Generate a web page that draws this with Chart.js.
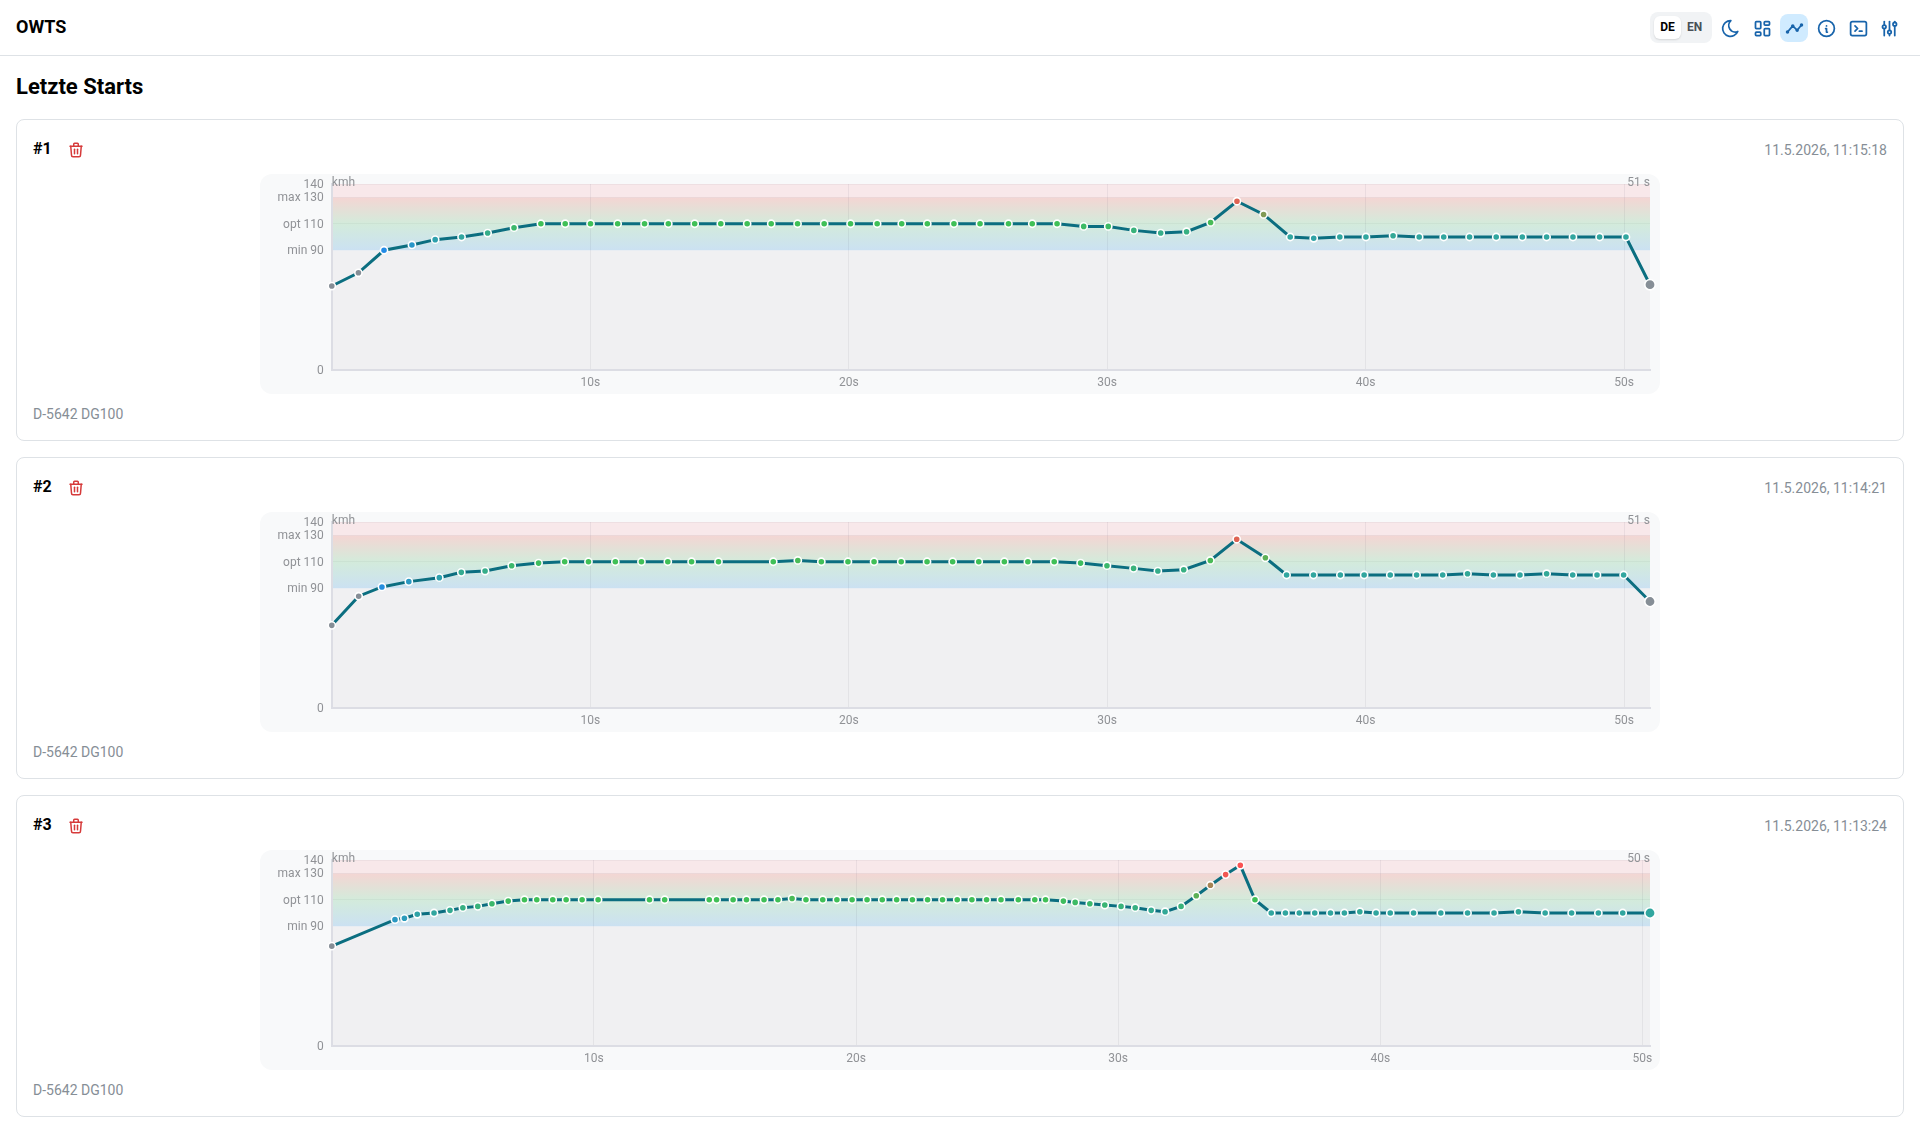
<!DOCTYPE html>
<html lang="de">
<head>
<meta charset="utf-8">
<title>OWTS</title>
<script src="https://cdn.jsdelivr.net/npm/chart.js@4/dist/chart.umd.js"></script>
<style>
  html,body{margin:0;padding:0;background:#fff;font-family:Roboto,sans-serif;color:#000;overflow:hidden}
  body{width:1920px;height:1134px;position:relative}
  header{position:absolute;left:0;top:0;width:1920px;height:55px;border-bottom:1px solid #dee2e6}
  .brand{position:absolute;left:16px;top:17px;font-size:18px;line-height:20px;font-weight:700}
  h1{position:absolute;left:16px;top:73px;margin:0;font-size:22px;line-height:28px;font-weight:700}
  .lang{position:absolute;left:1650px;top:12px;width:62px;height:31px;border-radius:8px;background:#f1f3f5}
  .lang span{position:absolute;top:4px;width:27px;height:23px;line-height:23px;text-align:center;font-size:12px;font-weight:700;color:#495057;border-radius:6px}
  .lang .on{left:4px;background:#fff;color:#000;box-shadow:0 1px 2px rgba(0,0,0,.12)}
  .lang .off{left:31px}
  .ico{position:absolute;top:14px;width:28px;height:28px;border-radius:8px;display:flex;align-items:center;justify-content:center}
  .ico.active{background:#d0ebff}
  svg{fill:none;stroke-linecap:round;stroke-linejoin:round}
  .ico svg{width:21px;height:21px;stroke:#1864ab;stroke-width:2}
  .card{position:absolute;left:16px;width:1886px;height:320px;border:1px solid #dee2e6;border-radius:8px;background:#fff}
  .num{position:absolute;left:16px;top:19px;font-size:16px;line-height:20px;font-weight:700}
  .trash{position:absolute;left:50px;top:21px;width:18px;height:18px;stroke:#d63a3a;stroke-width:2}
  .date{position:absolute;right:16px;top:20px;font-size:14px;line-height:20px;color:#868e96}
  .plane{position:absolute;left:16px;top:284px;font-size:14px;line-height:20px;color:#868e96}
  .panel{position:absolute;left:243px;top:54px;width:1400px;height:220px;background:#f8f9fa;border-radius:12px}
  canvas{display:block}
</style>
</head>
<body>
<header>
  <div class="brand">OWTS</div>
  <div class="lang"><span class="on">DE</span><span class="off">EN</span></div>
  <div class="ico" style="left:1716px"><svg viewBox="0 0 24 24"><path d="M12 3c.132 0 .263 0 .393 0a7.5 7.5 0 0 0 7.92 12.446a9 9 0 1 1 -8.313 -12.454z"/></svg></div>
  <div class="ico" style="left:1748px"><svg viewBox="0 0 24 24"><path d="M5 4h4a1 1 0 0 1 1 1v6a1 1 0 0 1 -1 1h-4a1 1 0 0 1 -1 -1v-6a1 1 0 0 1 1 -1"/><path d="M5 16h4a1 1 0 0 1 1 1v2a1 1 0 0 1 -1 1h-4a1 1 0 0 1 -1 -1v-2a1 1 0 0 1 1 -1"/><path d="M15 12h4a1 1 0 0 1 1 1v6a1 1 0 0 1 -1 1h-4a1 1 0 0 1 -1 -1v-6a1 1 0 0 1 1 -1"/><path d="M15 4h4a1 1 0 0 1 1 1v2a1 1 0 0 1 -1 1h-4a1 1 0 0 1 -1 -1v-2a1 1 0 0 1 1 -1"/></svg></div>
  <div class="ico active" style="left:1780px"><svg viewBox="0 0 24 24"><path d="M4 16l6 -7l5 5l5 -6"/><path d="M15 14m-1 0a1 1 0 1 0 2 0a1 1 0 1 0 -2 0"/><path d="M10 9m-1 0a1 1 0 1 0 2 0a1 1 0 1 0 -2 0"/><path d="M4 16m-1 0a1 1 0 1 0 2 0a1 1 0 1 0 -2 0"/><path d="M20 8m-1 0a1 1 0 1 0 2 0a1 1 0 1 0 -2 0"/></svg></div>
  <div class="ico" style="left:1812px"><svg viewBox="0 0 24 24"><path d="M3 12a9 9 0 1 0 18 0a9 9 0 0 0 -18 0"/><path d="M12 9h.01"/><path d="M11 12h1v4h1"/></svg></div>
  <div class="ico" style="left:1844px"><svg viewBox="0 0 24 24"><path d="M8 9l3 3l-3 3"/><path d="M13 15l3 0"/><path d="M3 4m0 2a2 2 0 0 1 2 -2h14a2 2 0 0 1 2 2v12a2 2 0 0 1 -2 2h-14a2 2 0 0 1 -2 -2z"/></svg></div>
  <div class="ico" style="left:1875px"><svg viewBox="0 0 24 24"><path d="M4 10a2 2 0 1 0 4 0a2 2 0 0 0 -4 0"/><path d="M6 4v4"/><path d="M6 12v8"/><path d="M10 16a2 2 0 1 0 4 0a2 2 0 0 0 -4 0"/><path d="M12 4v10"/><path d="M12 18v2"/><path d="M16 7a2 2 0 1 0 4 0a2 2 0 0 0 -4 0"/><path d="M18 4v1"/><path d="M18 9v11"/></svg></div>
</header>
<h1>Letzte Starts</h1>
<div id="cards"></div>
<script>
const yTickValues = [0, 90, 110, 130, 140];
const yTickLabels = { 0: "0", 90: "min 90", 110: "opt 110", 130: "max 130", 140: "140" };
const xTickValues = [10, 20, 30, 40, 50];
const speedMin = 90, speedOpt = 110, speedMax = 130, speedTop = 140;

const runNames = ["#1", "#2", "#3"];
const runDates = ["11.5.2026, 11:15:18", "11.5.2026, 11:14:21", "11.5.2026, 11:13:24"];
const runPlanes = ["D-5642 DG100", "D-5642 DG100", "D-5642 DG100"];
const runDurations = ["51 s", "51 s", "50 s"];
const runEnds = [51, 51, 50.29];

const times1 = [0,1.03,2.02,3.1,4,5.02,6.03,7.05,8.09,9.03,10.01,11.06,12.1,13.02,14.04,15.05,16.07,17,18.02,19.05,20.07,21.1,22.05,23.04,24.07,25.08,26.18,27.1,28.06,29.09,30.04,31.03,32.07,33.07,34,35.02,36.05,37.08,37.99,39,40.01,41.06,42.07,43.02,44.02,45.05,46.06,47,48.02,49.05,50.07,51];
const speeds1 = [63,73,90,94,98,100,103,107,110,110,110,110,110,110,110,110,110,110,110,110,110,110,110,110,110,110,110,110,110,108,108,105,103,104,111,127,117,100,99,100,100,101,100,100,100,100,100,100,100,100,100,64];

const times2 = [0,1.04,1.94,2.98,4.16,5.01,5.93,6.96,8,9.01,9.93,10.97,11.98,13,13.92,14.96,17.08,18.03,18.94,19.97,20.98,22.03,23.03,24.02,25.03,26.02,26.93,27.95,28.97,29.99,31.02,31.96,32.96,33.99,35.01,36.12,36.94,37.98,39.02,39.94,40.95,41.97,42.98,43.94,44.94,45.97,47,48.01,48.95,49.98,51];
const speeds2 = [62,84,91,95,98,102,103,107,109,110,110,110,110,110,110,110,110,111,110,110,110,110,110,110,110,110,110,110,109,107,105,103,104,111,127,113,100,100,100,100,100,100,100,101,100,100,101,100,100,100,80];

const times3 = [0,2.41,2.77,3.26,3.9,4.51,5,5.57,6.11,6.73,7.35,7.82,8.43,8.94,9.55,10.16,12.12,12.7,14.4,14.68,15.31,15.82,16.49,17.02,17.56,18.09,18.73,19.27,19.85,20.42,21,21.55,22.15,22.73,23.3,23.86,24.42,24.98,25.53,26.19,26.82,27.23,27.91,28.36,28.92,29.49,30.11,30.65,31.26,31.79,32.4,32.98,33.52,34.1,34.66,35.22,35.84,36.38,36.91,37.5,38.1,38.63,39.22,39.84,40.38,41.27,42.31,43.33,44.34,45.27,46.29,47.3,48.32,49.25,50.29];
const speeds3 = [75,95,96,99,100,102,104,105,107,109,110,110,110,110,110,110,110,110,110,110,110,110,110,110,111,110,110,110,110,110,110,110,110,110,110,110,110,110,110,110,110,110,109,108,107,106,105,104,102,101,105,113,121,129,136,110,100,100,100,100,100,100,101,100,100,100,100,100,100,101,100,100,100,100,100];

const runTimes = [times1, times2, times3];
const runSpeeds = [speeds1, speeds2, speeds3];

const trashSvg = '<svg class="trash" viewBox="0 0 24 24"><path d="M4 7l16 0"/><path d="M10 11l0 6"/><path d="M14 11l0 6"/><path d="M5 7l1 12a2 2 0 0 0 2 2h8a2 2 0 0 0 2 -2l1 -12"/><path d="M9 7v-3a1 1 0 0 1 1 -1h4a1 1 0 0 1 1 1v3"/></svg>';

function mix(a, b, t) {
  const c = a.map((v, i) => Math.round(v + (b[i] - v) * t));
  return "rgb(" + c.join(",") + ")";
}
function speedColor(v) {
  const blue = [34, 139, 230], green = [64, 192, 87], red = [250, 82, 82];
  if (v < speedMin) return "#868e96";
  if (v <= speedOpt) return mix(blue, green, (v - speedMin) / (speedOpt - speedMin));
  if (v <= speedMax) return mix(green, red, (v - speedOpt) / (speedMax - speedOpt));
  return "rgb(250,82,82)";
}

const bandPlugin = {
  id: "bands",
  beforeDraw(chart) {
    const { ctx, chartArea: a, scales: { y } } = chart;
    const w = a.right - a.left;
    const p = v => y.getPixelForValue(v);
    ctx.save();
    ctx.fillStyle = "#f0f0f2";
    ctx.fillRect(a.left, p(speedMin), w, p(0) - p(speedMin));
    const g = ctx.createLinearGradient(0, p(speedMin), 0, p(speedMax));
    g.addColorStop(0, "#cbe1f2");
    g.addColorStop(0.5, "#d3ebdb");
    g.addColorStop(1, "#f4d5d3");
    ctx.fillStyle = g;
    ctx.fillRect(a.left, p(speedMax), w, p(speedMin) - p(speedMax));
    ctx.fillStyle = "#f8e8ea";
    ctx.fillRect(a.left, p(speedTop), w, p(speedMax) - p(speedTop));
    ctx.restore();
  },
  afterDraw(chart, args, opts) {
    const { ctx, chartArea: a } = chart;
    ctx.save();
    ctx.font = "12px Roboto";
    ctx.fillStyle = "#909296";
    ctx.textBaseline = "middle";
    ctx.textAlign = "left";
    ctx.fillText("kmh", a.left, a.top - 1.5);
    ctx.textAlign = "right";
    ctx.fillText(opts.duration, a.right, a.top - 1.5);
    ctx.restore();
  }
};

const host = document.getElementById("cards");
runNames.forEach((name, i) => {
  const card = document.createElement("div");
  card.className = "card";
  card.style.top = (119 + i * 338) + "px";
  card.innerHTML = '<div class="num">' + name + '</div>' + trashSvg +
    '<div class="date">' + runDates[i] + '</div>' +
    '<div class="panel"><canvas width="1400" height="220"></canvas></div>' +
    '<div class="plane">' + runPlanes[i] + '</div>';
  host.appendChild(card);
  const points = runTimes[i].map((t, k) => ({ x: t, y: runSpeeds[i][k] }));
  const last = points.length - 1;
  new Chart(card.querySelector("canvas"), {
    type: "line",
    data: { datasets: [{
      data: points,
      borderColor: "#0b6e80",
      borderWidth: 3,
      tension: 0,
      clip: false,
      pointBorderColor: "#ffffff",
      pointBorderWidth: 1.6,
      pointBackgroundColor: c => speedColor(c.parsed.y),
      pointRadius: c => c.dataIndex === last ? 5.2 : 3.6
    }] },
    options: {
      responsive: false,
      animation: false,
      devicePixelRatio: 1,
      layout: { padding: { left: 0, right: 10, top: 10, bottom: 0 } },
      plugins: { legend: { display: false }, tooltip: { enabled: false }, bands: { duration: runDurations[i] } },
      scales: {
        x: {
          type: "linear", min: 0, max: runEnds[i],
          afterBuildTicks: s => { s.ticks = xTickValues.map(v => ({ value: v })); },
          afterFit: s => { s.height = 24.5; },
          grid: { color: "rgba(60,60,80,0.07)", drawTicks: false },
          border: { color: "#dcdde4", width: 2 },
          ticks: { color: "#909296", font: { family: "Roboto", size: 12 }, padding: 6, maxRotation: 0, autoSkip: false, callback: v => v + "s" }
        },
        y: {
          type: "linear", min: 0, max: speedTop,
          afterBuildTicks: s => { s.ticks = yTickValues.map(v => ({ value: v })); },
          afterFit: s => { s.width = 71.8; s.paddingTop = 0; s.paddingBottom = 0; },
          grid: { color: c => c.tick && (c.tick.value === speedOpt || c.tick.value === speedMax || c.tick.value === speedTop) ? "rgba(60,60,80,0.05)" : "rgba(0,0,0,0)", drawTicks: false },
          border: { color: "#dcdde4", width: 2 },
          ticks: { color: "#909296", font: { family: "Roboto", size: 12 }, padding: 8, labelOffset: 1, autoSkip: false, callback: v => yTickLabels[v] }
        }
      }
    },
    plugins: [bandPlugin]
  });
});
</script>
</body>
</html>
